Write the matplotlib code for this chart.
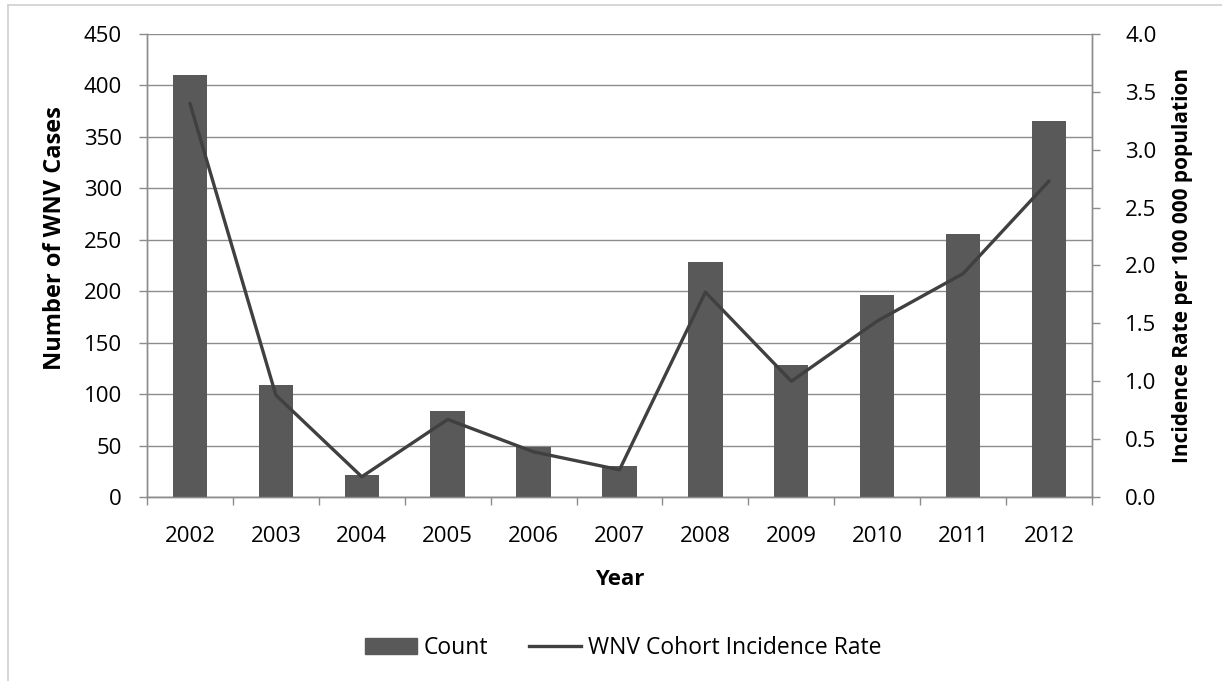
import numpy as np
import matplotlib.pyplot as plt
from matplotlib.lines import Line2D

plt.rcParams['font.family'] = ['Open Sans', 'DejaVu Sans']

# WNV cases by year and cohort incidence rate per 100 000
years = ["2002", "2003", "2004", "2005", "2006", "2007",
         "2008", "2009", "2010", "2011", "2012"]
case_counts = [410, 109, 21, 84, 49, 30, 228, 128, 196, 256, 365]
incidence_rate = [3.40, 0.88, 0.175, 0.67, 0.39, 0.235, 1.77, 1.00, 1.52, 1.93, 2.73]

bar_color = "#595959"
line_color = "#404040"
grid_color = "#8c8c8c"
tick_size = 16

fig = plt.figure(figsize=(12.22, 6.81), dpi=100)
ax = fig.add_axes([0.1203, 0.2702, 0.7733, 0.6799])
ax2 = ax.twinx()

x = np.arange(len(years))

# ── bars: case counts on the left axis ──
ax.bar(x, case_counts, width=0.40, color=bar_color, zorder=3, label="Count")
ax.set_ylim(0, 450)
ax.set_yticks(np.arange(0, 451, 50))
ax.set_xlim(-0.5, len(years) - 0.5)
ax.yaxis.grid(True, color=grid_color, linewidth=1.0, zorder=0)
ax.set_axisbelow(True)

# ── line: incidence rate on the right axis ──
ax2.plot(x, incidence_rate, color=line_color, linewidth=2.4,
         solid_capstyle="round", zorder=4, label="WNV Cohort Incidence Rate")
ax2.set_ylim(0, 4.0)
ax2.set_yticks(np.arange(0, 4.01, 0.5))
ax2.set_yticklabels([f"{v:.1f}" for v in np.arange(0, 4.01, 0.5)])

# x ticks: labels at category centres, tick marks at category boundaries
ax.set_xticks(x)
ax.set_xticklabels(years)
ax.set_xticks(np.arange(-0.5, len(years), 1.0), minor=True)
ax.tick_params(axis="x", which="major", length=0, pad=21, labelsize=tick_size)
ax.tick_params(axis="x", which="minor", length=6, width=1, color=grid_color,
               direction="out")
ax.tick_params(axis="y", length=6, width=1, color=grid_color, pad=12,
               labelsize=tick_size, direction="out")
ax2.tick_params(axis="y", length=6, width=1, color=grid_color, pad=18,
                labelsize=tick_size, direction="out")

for a in (ax, ax2):
    a.spines["top"].set_visible(False)
    for side in ("left", "right", "bottom"):
        a.spines[side].set_color(grid_color)
        a.spines[side].set_linewidth(1.0)

ax.set_xlabel("Year", fontsize=16, fontweight="bold")
ax.xaxis.set_label_coords(0.5, -0.156)
ax.set_ylabel("Number of WNV Cases", fontsize=17, fontweight="bold")
ax.yaxis.set_label_coords(-0.085, 0.56)
ax2.set_ylabel("Incidence Rate per 100 000 population", fontsize=15,
               fontweight="bold")
ax2.yaxis.set_label_coords(1.0847, 0.5)

# legend below the plot
handles = [
    plt.Rectangle((0, 0), 1, 1, color=bar_color),
    Line2D([0], [0], color=line_color, linewidth=2.4),
]
fig.legend(handles, ["Count", "WNV Cohort Incidence Rate"], loc="center",
           bbox_to_anchor=(0.51, 0.048), ncol=2, frameon=False, fontsize=16.5,
           handlelength=2.25, handletextpad=0.3, columnspacing=1.8)

# chart area border (top and left edges)
fig.add_artist(Line2D([8 / 1222, 1.0], [1 - 5 / 681, 1 - 5 / 681],
                      transform=fig.transFigure, color="#d0d0d0", linewidth=1.2))
fig.add_artist(Line2D([8 / 1222, 8 / 1222], [0, 1 - 5 / 681],
                      transform=fig.transFigure, color="#d0d0d0", linewidth=1.2))

fig.savefig("out.png", dpi=100)
